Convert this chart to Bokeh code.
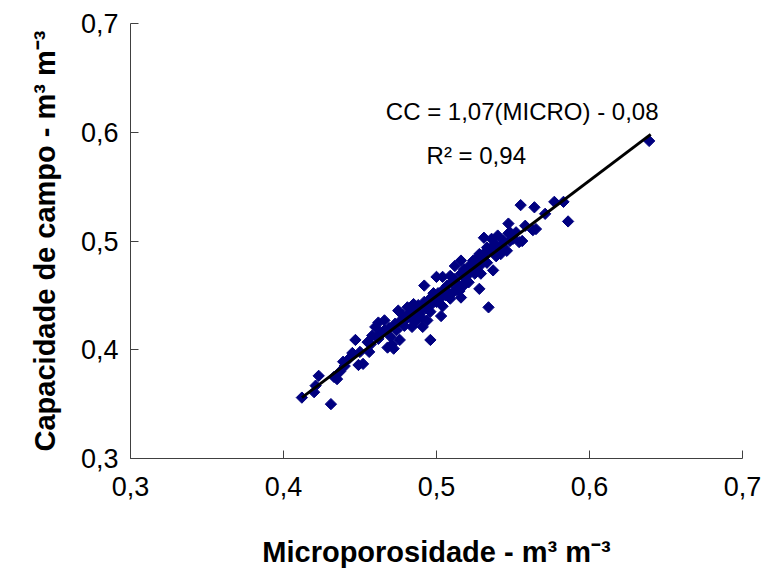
import numpy as np
from bokeh.plotting import figure
from bokeh.models import Label, FixedTicker
from bokeh.embed import file_html
from bokeh.resources import INLINE

# Microporosity (x) and field capacity (y), m3 m-3
micro = [0.412, 0.431, 0.420, 0.421, 0.423, 0.435, 0.433, 0.439, 0.445, 0.447,
         0.449, 0.452, 0.455, 0.458, 0.460, 0.462, 0.465, 0.468, 0.471, 0.472,
         0.476, 0.475, 0.481, 0.484, 0.485, 0.487, 0.490, 0.491, 0.494, 0.496,
         0.492, 0.500, 0.498, 0.503, 0.504, 0.509, 0.515, 0.466, 0.512, 0.516,
         0.511, 0.518, 0.516, 0.522, 0.527, 0.529, 0.528, 0.534, 0.531, 0.533,
         0.537, 0.536, 0.540, 0.542, 0.546, 0.547, 0.547, 0.548, 0.554, 0.555,
         0.558, 0.563, 0.564, 0.565, 0.571, 0.577, 0.583, 0.586, 0.556, 0.639,
         0.443, 0.450, 0.457, 0.462, 0.466, 0.469, 0.473, 0.476, 0.478, 0.480,
         0.482, 0.486, 0.488, 0.490, 0.492, 0.495, 0.497, 0.499, 0.501, 0.503,
         0.505, 0.507, 0.508, 0.510, 0.512, 0.514, 0.516, 0.518, 0.520, 0.522,
         0.524, 0.526, 0.528, 0.530, 0.533, 0.535, 0.538, 0.541, 0.544, 0.550,
         0.552, 0.463, 0.470, 0.474, 0.479, 0.483, 0.486, 0.489, 0.493, 0.496,
         0.500, 0.504, 0.506, 0.509, 0.513, 0.517, 0.519, 0.521, 0.525, 0.529,
         0.532, 0.539, 0.543, 0.548, 0.456, 0.440, 0.437]
cc = [0.356, 0.350, 0.361, 0.367, 0.376, 0.373, 0.375, 0.389, 0.397, 0.409,
      0.386, 0.387, 0.407, 0.413, 0.421, 0.425, 0.416, 0.402, 0.405, 0.401,
      0.409, 0.436, 0.439, 0.421, 0.442, 0.428, 0.430, 0.421, 0.427, 0.409,
      0.459, 0.467, 0.452, 0.431, 0.467, 0.468, 0.454, 0.427, 0.477, 0.482,
      0.453, 0.461, 0.448, 0.473, 0.485, 0.470, 0.456, 0.439, 0.503, 0.494,
      0.473, 0.502, 0.505, 0.488, 0.491, 0.507, 0.516, 0.508, 0.499, 0.533,
      0.514, 0.510, 0.531, 0.511, 0.525, 0.536, 0.536, 0.518, 0.500, 0.592,
      0.392, 0.398, 0.405, 0.410, 0.418, 0.420, 0.424, 0.426, 0.432, 0.428,
      0.433, 0.436, 0.441, 0.437, 0.444, 0.446, 0.442, 0.450, 0.452, 0.448,
      0.456, 0.459, 0.452, 0.462, 0.465, 0.460, 0.470, 0.474, 0.468, 0.478,
      0.482, 0.476, 0.488, 0.484, 0.480, 0.492, 0.497, 0.494, 0.500, 0.502,
      0.508, 0.415, 0.412, 0.418, 0.422, 0.430, 0.425, 0.433, 0.438, 0.435,
      0.444, 0.440, 0.450, 0.447, 0.455, 0.458, 0.465, 0.462, 0.470, 0.478,
      0.490, 0.486, 0.495, 0.500, 0.398, 0.385, 0.380]

# Fitted line CC = 1,07(MICRO) - 0,08 drawn over the data range
fit_x = [0.412, 0.640]
fit_y = [0.356, 0.598]

ticks = [0.3, 0.4, 0.5, 0.6, 0.7]
tick_labels = ["0,3", "0,4", "0,5", "0,6", "0,7"]

FONT = "Liberation Sans"

p = figure(width=765, height=571, output_backend="svg", toolbar_location=None,
           x_range=(0.3, 0.7), y_range=(0.3, 0.7),
           min_border_left=130, min_border_right=23, min_border_top=23,
           min_border_bottom=113)
p.outline_line_color = None
p.grid.visible = False
p.background_fill_color = "white"
p.border_fill_color = "white"

p.scatter(micro, cc, marker="square", size=8, angle=np.pi / 4,
          fill_color="#000080", line_color="#000080", line_width=1)
p.line(fit_x, fit_y, line_color="black", line_width=3)

labels = dict(zip(ticks, tick_labels))
for ax in (p.xaxis[0], p.yaxis[0]):
    ax.ticker = FixedTicker(ticks=ticks)
    ax.major_label_overrides = labels
    ax.minor_tick_line_color = None
    ax.major_tick_in = 8
    ax.major_tick_out = 0
    ax.axis_line_color = "#404040"
    ax.major_tick_line_color = "#404040"
    ax.major_label_text_font = FONT
    ax.major_label_text_font_size = "27px"
    ax.major_label_text_color = "black"
    ax.axis_label_text_font = FONT
    ax.axis_label_text_font_style = "bold"
    ax.axis_label_text_font_size = "29px"
    ax.axis_label_text_color = "black"

p.xaxis.axis_label = "Microporosidade - m³ m⁻³"
p.yaxis.axis_label = "Capacidade de campo - m³ m⁻³"
p.xaxis.major_label_standoff = 18
p.xaxis.axis_label_standoff = 37
p.yaxis.major_label_standoff = 12
p.yaxis.axis_label_standoff = 17

p.add_layout(Label(x=0.556, y=0.619, text="CC = 1,07(MICRO) - 0,08",
                   text_align="center", text_baseline="middle",
                   text_font=FONT, text_font_size="24px", text_color="black"))
p.add_layout(Label(x=0.526, y=0.579, text="R² = 0,94",
                   text_align="center", text_baseline="middle",
                   text_font=FONT, text_font_size="24px", text_color="black"))

open("out.html", "w").write(file_html(p, INLINE))
